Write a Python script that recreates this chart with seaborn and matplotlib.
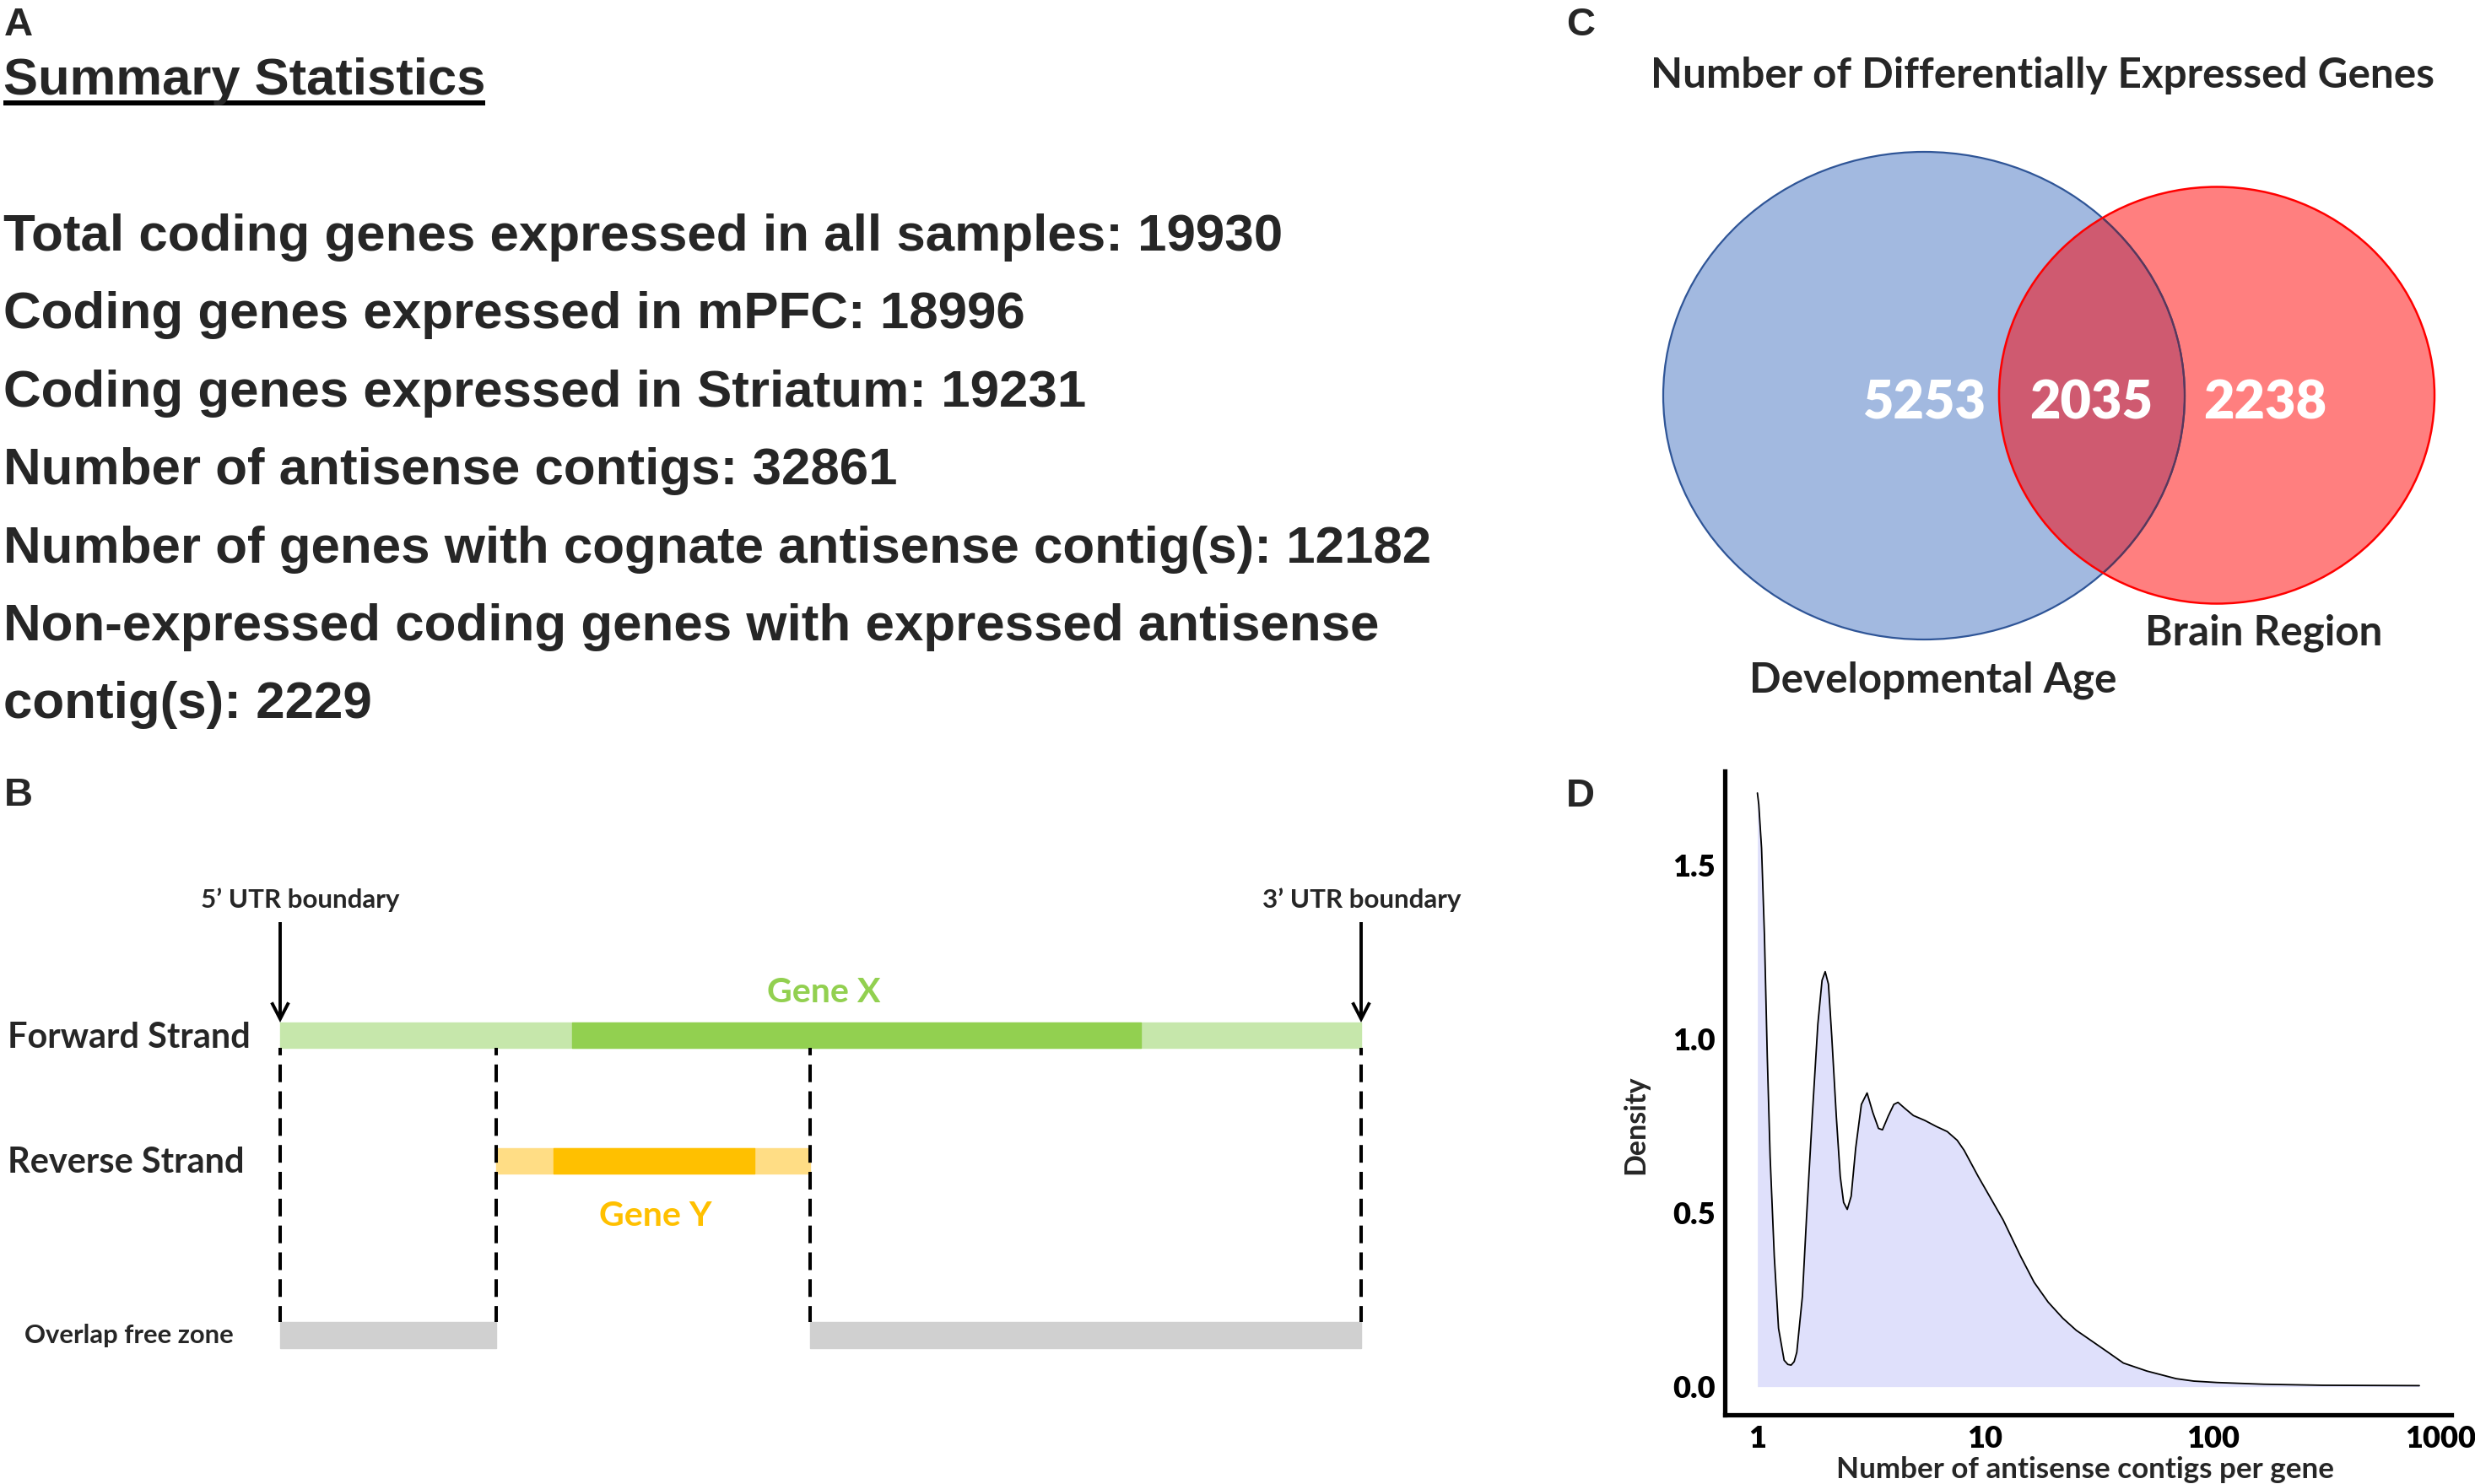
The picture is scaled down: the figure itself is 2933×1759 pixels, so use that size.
import numpy as np
import pandas as pd
import matplotlib
matplotlib.use("Agg")
import matplotlib.pyplot as plt
import seaborn as sns
from matplotlib.patches import Ellipse, FancyArrowPatch

# ---------------- data ----------------
panel_letters = ["A", "B", "C", "D"]

summary_title = "Summary Statistics"
summary_labels = [
    "Total coding genes expressed in all samples",
    "Coding genes expressed in mPFC",
    "Coding genes expressed in Striatum",
    "Number of antisense contigs",
    "Number of genes with cognate antisense contig(s)",
    "Non-expressed coding genes with expressed antisense\ncontig(s)",
]
summary_values = [19930, 18996, 19231, 32861, 12182, 2229]

# schematic (gene coordinates, Gene X UTR spans 0-100)
strand_labels = ["Forward Strand", "Reverse Strand", "Overlap free zone"]
gene_names = ["Gene X", "Gene Y"]
gene_x_utr = (0, 100)
gene_x_cds = (27, 79.6)
gene_y_utr = (20, 49)
gene_y_cds = (25.3, 43.9)
free_zones = [(0, 20), (49, 100)]
boundaries = [0, 20, 49, 100]
utr_labels = ["5\u2019 UTR boundary", "3\u2019 UTR boundary"]

# Venn
venn_title = "Number of Differentially Expressed Genes"
venn_sets = ["Developmental Age", "Brain Region"]
venn_counts = [5253, 2035, 2238]

# density of antisense contigs per gene
density_x = [1.0, 1.014, 1.043, 1.074, 1.105, 1.137, 1.186, 1.238, 1.31, 1.36,
             1.406, 1.45, 1.489, 1.576, 1.644, 1.741, 1.842, 1.922, 1.984, 2.05,
             2.12, 2.22, 2.31, 2.39, 2.48, 2.58, 2.70, 2.86, 3.03, 3.21, 3.40,
             3.54, 3.75, 3.97, 4.14, 4.45, 4.84, 5.43, 6.08, 6.81, 7.53, 8.08,
             9.31, 10.7, 12.0, 14.3, 16.4, 18.9, 21.9, 25.1, 26.7, 33.9, 40.4,
             51.2, 68.9, 82.3, 104, 167, 303, 804]
density_y = [1.708, 1.675, 1.549, 1.296, 0.95, 0.663, 0.375, 0.168, 0.076, 0.064,
             0.062, 0.072, 0.099, 0.26, 0.49, 0.778, 1.043, 1.169, 1.194, 1.158,
             1.008, 0.778, 0.605, 0.53, 0.51, 0.548, 0.686, 0.812, 0.845, 0.789,
             0.743, 0.739, 0.778, 0.812, 0.818, 0.80, 0.78, 0.766, 0.749, 0.734,
             0.709, 0.68, 0.605, 0.536, 0.479, 0.375, 0.30, 0.243, 0.197, 0.162,
             0.15, 0.103, 0.068, 0.045, 0.023, 0.016, 0.012, 0.007, 0.004, 0.003]
x_ticks = [1, 10, 100, 1000]
x_ticklabels = ["1", "10", "100", "1000"]
y_ticks = [0.0, 0.5, 1.0, 1.5]
y_ticklabels = ["0.0", "0.5", "1.0", "1.5"]
x_label = "Number of antisense contigs per gene"
y_label = "Density"

# ---------------- figure ----------------
W, H, DPI = 2933, 1759, 100
sns.set_style("white")
ARIAL = ["Liberation Sans", "DejaVu Sans"]
CAL = ["Lato", "DejaVu Sans"]
plt.rcParams["font.family"] = ARIAL

fig = plt.figure(figsize=(W / DPI, H / DPI), dpi=DPI)
fig.patch.set_facecolor("white")
renderer = fig.canvas.get_renderer()


def fit(t, target):
    w = t.get_window_extent(renderer).width
    t.set_fontsize(t.get_fontsize() * target / w)
    return t.get_fontsize()


ax = fig.add_axes([0, 0, 1, 1])
ax.set_xlim(0, W)
ax.set_ylim(H, 0)
ax.axis("off")

# panel letters
for letter, (lx, ly) in zip(panel_letters, [(5, 42), (5, 955), (1856, 42), (1856, 956)]):
    ax.text(lx, ly, letter, fontsize=34, fontweight="bold", family=ARIAL,
            va="baseline", ha="left")

# ---------------- Panel A ----------------
tt = ax.text(4, 112, summary_title, fontsize=45, fontweight="bold", family=ARIAL,
             va="baseline", ha="left")
fit(tt, 572)
bb = tt.get_window_extent(renderer)
ax.plot([bb.x0, bb.x1], [122, 122], color="black", lw=4.3, solid_capstyle="butt")

lines = []
for lab, val in zip(summary_labels, summary_values):
    full = f"{lab}: {val}"
    lines.extend(full.split("\n"))
base0, step = 297, 92.4
size_a = None
for i, ln in enumerate(lines):
    t = ax.text(4, base0 + i * step, ln, fontsize=44.5, fontweight="bold",
                family=ARIAL, va="baseline", ha="left")
    if i == 0:
        size_a = fit(t, 1515)
    else:
        t.set_fontsize(size_a)

# ---------------- Panel B ----------------
px0, pxs = 332.0, 12.81
axb = fig.add_axes([0, 0, 1, 1])
axb.set_xlim((0 - px0) / pxs, (W - px0) / pxs)
axb.set_ylim(H, 0)
axb.axis("off")
axb.patch.set_alpha(0)

light_g, dark_g = "#c6e7ab", "#92d050"
light_y, dark_y = "#ffdd85", "#ffc000"
grey = "#d0d0d0"

axb.broken_barh([(gene_x_utr[0], gene_x_utr[1] - gene_x_utr[0])], (1212, 30), color=light_g)
axb.broken_barh([(gene_x_cds[0], gene_x_cds[1] - gene_x_cds[0])], (1212, 30), color=dark_g)
axb.broken_barh([(gene_y_utr[0], gene_y_utr[1] - gene_y_utr[0])], (1361, 30), color=light_y)
axb.broken_barh([(gene_y_cds[0], gene_y_cds[1] - gene_y_cds[0])], (1361, 30), color=dark_y)
axb.broken_barh([(a, b - a) for a, b in free_zones], (1567, 31), color=grey)

for bx in boundaries:
    axb.plot([bx, bx], [1242, 1567], color="black", lw=2.9,
             linestyle=(3.0, (5.2, 2.7)))

for bx in (boundaries[0], boundaries[-1]):
    arr = FancyArrowPatch((bx, 1093), (bx, 1212),
                          arrowstyle="->,head_length=0.7,head_width=0.36",
                          mutation_scale=20, lw=2.8, color="black",
                          shrinkA=0, shrinkB=0, capstyle="butt", joinstyle="miter")
    axb.add_patch(arr)

t5 = axb.text((356 - px0) / pxs, 1076, utr_labels[0], fontsize=20, fontweight="bold",
              family=CAL, ha="center", va="baseline")
s_utr = fit(t5, 236)
axb.text((1614 - px0) / pxs, 1076, utr_labels[1], fontsize=s_utr, fontweight="bold",
         family=CAL, ha="center", va="baseline")

tf = axb.text((9 - px0) / pxs, 1242, strand_labels[0], fontsize=28, fontweight="bold",
              family=CAL, ha="left", va="baseline")
s_str = fit(tf, 288)
axb.text((9 - px0) / pxs, 1390, strand_labels[1], fontsize=s_str, fontweight="bold",
         family=CAL, ha="left", va="baseline")
to = axb.text((29 - px0) / pxs, 1592, strand_labels[2], fontsize=20, fontweight="bold",
              family=CAL, ha="left", va="baseline")
fit(to, 248)

tgx = axb.text((976 - px0) / pxs, 1188, gene_names[0], fontsize=28, fontweight="bold",
               family=CAL, ha="center", va="baseline", color=dark_g)
s_gene = fit(tgx, 135)
axb.text((777 - px0) / pxs, 1453, gene_names[1], fontsize=s_gene, fontweight="bold",
         family=CAL, ha="center", va="baseline", color=dark_y)

# ---------------- Panel C ----------------
blue_c, blue_w, blue_h = (2280, 469), 618, 578
red_c, red_w, red_h = (2627, 468.5), 516, 494

blue = Ellipse(blue_c, blue_w, blue_h, facecolor="#a2b9e0", edgecolor="none")
red = Ellipse(red_c, red_w, red_h, facecolor="#ff7f7f", edgecolor="none")
ax.add_patch(blue)
ax.add_patch(red)
ov = Ellipse(blue_c, blue_w, blue_h, facecolor="#cf5a70", edgecolor="none")
ax.add_patch(ov)
ov.set_clip_path(red)
ax.add_patch(Ellipse(blue_c, blue_w, blue_h, facecolor="none", edgecolor="#2f5597", lw=1.6))
be2 = Ellipse(blue_c, blue_w, blue_h, facecolor="none", edgecolor="#5d3658", lw=1.6)
ax.add_patch(be2)
be2.set_clip_path(red)
ax.add_patch(Ellipse(red_c, red_w, red_h, facecolor="none", edgecolor="#ff0000", lw=1.8))

tc = ax.text(2421, 104, venn_title, fontsize=32, fontweight="bold", family=CAL,
             ha="center", va="baseline")
fit(tc, 929)

num_x = [2280, 2478, 2684]
for i, (cnt, nx) in enumerate(zip(venn_counts, num_x)):
    t = ax.text(nx, 496, str(cnt), fontsize=46, fontweight="heavy", family=CAL,
                ha="center", va="baseline", color="white")
    if i == 0:
        s_num = fit(t, 146)
    else:
        t.set_fontsize(s_num)

td = ax.text(2291, 820, venn_sets[0], fontsize=32, fontweight="bold", family=CAL,
             ha="center", va="baseline")
s_set = fit(td, 436)
ax.text(2683, 764, venn_sets[1], fontsize=s_set, fontweight="bold", family=CAL,
        ha="center", va="baseline")

# ---------------- Panel D ----------------
axd = fig.add_axes([2044 / W, (H - 1677) / H, (2905 - 2044) / W, (1677 - 914) / H])
axd.patch.set_alpha(0)
dens = pd.DataFrame({"x": density_x, "y": density_y})
axd.fill_between(dens["x"], dens["y"], 0, color="#dfe0fb", lw=0, zorder=1)
sns.lineplot(data=dens, x="x", y="y", ax=axd, color="black", linewidth=1.3,
             estimator=None, zorder=3)
axd.set_xscale("log")
axd.set_xlim(10 ** -0.143, 10 ** 3.046)
axd.set_ylim(-0.081, 1.771)
axd.set_xticks(x_ticks)
axd.set_xticklabels(x_ticklabels)
axd.minorticks_off()
axd.set_yticks(y_ticks)
axd.set_yticklabels(y_ticklabels)
for s in ["top", "right"]:
    axd.spines[s].set_visible(False)
for s in ["left", "bottom"]:
    axd.spines[s].set_linewidth(3.8)
    axd.spines[s].set_color("black")
axd.tick_params(axis="both", length=0, labelsize=26, labelcolor="black")
axd.tick_params(axis="y", pad=8)
axd.tick_params(axis="x", pad=9)
for lab in axd.get_xticklabels() + axd.get_yticklabels():
    lab.set_fontfamily(CAL)
    lab.set_fontweight("heavy")
axd.grid(False)

xl = axd.set_xlabel(x_label, fontsize=24, fontweight="bold", family=CAL)
fit(xl, 590)
axd.xaxis.set_label_coords(0.496, -0.064)
yl = axd.set_ylabel(y_label, fontsize=24.5, fontweight="bold", family=CAL)
axd.yaxis.set_label_coords(-0.1045, 0.45)

fig.savefig("out.png", dpi=DPI, facecolor="white")
